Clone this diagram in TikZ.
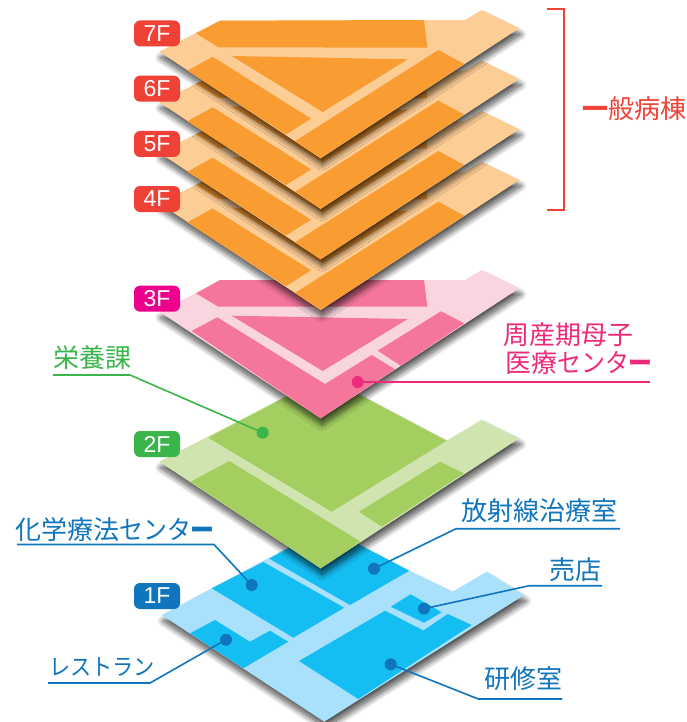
\documentclass[tikz,border=0pt]{standalone}
\usepackage{fontspec}
\setmainfont{Noto Sans CJK JP}
\newfontfamily\tagfont{Liberation Sans}
\newfontfamily\kanafont[FakeStretch=0.92]{Noto Sans CJK JP}
\usetikzlibrary{shadows.blur}
\definecolor{wardorange}{HTML}{F99D33}
\definecolor{wardorangelt}{HTML}{FDCD96}
\definecolor{wardred}{HTML}{EF4136}
\definecolor{matpink}{HTML}{F4769B}
\definecolor{matpinklt}{HTML}{F9D5DF}
\definecolor{matlabel}{HTML}{EE2A7B}
\definecolor{tagpink}{HTML}{EC008C}
\definecolor{foodgreen}{HTML}{A4CF60}
\definecolor{foodgreenlt}{HTML}{CFE4AF}
\definecolor{labelgreen}{HTML}{39B54A}
\definecolor{groundblue}{HTML}{15BEF2}
\definecolor{groundbluelt}{HTML}{A9E0FB}
\definecolor{labelblue}{HTML}{0F75BC}
\tikzset{
  floorbase/.style={blur shadow={shadow xshift=1.5pt, shadow yshift=-6pt, shadow blur radius=6pt, shadow blur steps=14, shadow opacity=72}},
  floortag/.style={rounded corners=6pt, minimum width=46pt, minimum height=26pt, inner sep=0pt, text=white, font=\tagfont\fontsize{23}{25}\selectfont},
  roomdot/.style={circle, minimum size=12pt, inner sep=0pt},
  roomlabel/.style={anchor=west, inner sep=0pt, font=\fontsize{26}{30}\selectfont},
  leader/.style={line width=1.6pt}
}
\newcommand{\kana}[1]{{\kanafont #1}}
% orange floors share one plan, #1 = vertical offset
\newcommand{\wardfloor}[1]{
  \begin{scope}[shift={(0,#1)}]
    \fill[wardorangelt, floorbase] (159.3,51.7) -- (220,20.7) -- (465,20) -- (481.7,10) -- (519.3,28.3) -- (320.7,158.3) -- cycle;
    \fill[wardorange] (196,33.3) -- (220,20.7) -- (424,20) -- (427.3,47.7) -- (218.3,47.3) -- cycle;
    \fill[wardorange] (231.7,56) -- (407.7,59.3) -- (322.7,112) -- cycle;
    \fill[wardorange] (187.3,70.7) -- (212.7,56.7) -- (311,118.7) -- (286,134.5) -- cycle;
    \fill[wardorange] (438.3,50) -- (464.3,64) -- (320.7,158.3) -- (295,141.2) -- cycle;
  \end{scope}
}

\begin{document}
\begin{tikzpicture}[x=1pt, y=-1pt]
    \useasboundingbox (0,0) rectangle (687,722);

    % 1F
    \fill[groundbluelt, floorbase] (161.7,615) -- (326,527.3) -- (409.3,570.7) -- (452.7,591.7) -- (486.7,571.7) -- (524.3,595) -- (324.3,721.7) -- cycle;
    \fill[groundblue] (211.7,588.3) -- (263.3,562) -- (344.3,607.7) -- (293.3,637.7) -- cycle;
    \fill[groundblue] (269.3,558.7) -- (326,527.3) -- (409.3,570.7) -- (350,605) -- cycle;
    \fill[groundblue] (190,633.3) -- (215,620) -- (250,641.7) -- (270,630.7) -- (288.3,641.7) -- (243.3,668.3) -- cycle;
    \fill[groundblue] (299,661) -- (385,610.7) -- (423.5,630.5) -- (447.7,614) -- (471.7,625) -- (358.3,699) -- cycle;
    \fill[groundblue] (390.7,606.7) -- (410.7,594.3) -- (441.7,612.3) -- (424,622.7) -- cycle;

    % 2F
    \fill[foodgreenlt, floorbase] (159.3,461.7) -- (324.7,376.3) -- (446.7,440.7) -- (481.7,419.7) -- (519.3,438.3) -- (320.7,568.3) -- cycle;
    \fill[foodgreen] (208.3,437.7) -- (324.7,376.3) -- (446.7,440.7) -- (331.7,511.7) -- cycle;
    \fill[foodgreen] (190.7,481.7) -- (229.3,461) -- (360.7,541.7) -- (320.7,568.3) -- cycle;
    \fill[foodgreen] (359,511.7) -- (440,461.7) -- (464,473.3) -- (381.7,526.7) -- cycle;

    % 3F
    \begin{scope}[shift={(0,260)}]
        \fill[matpinklt, floorbase] (159.3,51.7) -- (220,20.7) -- (465,20) -- (481.7,10) -- (519.3,28.3) -- (320.7,158.3) -- cycle;
        \fill[matpink] (196,33.3) -- (220,20) -- (424,20) -- (427.3,46.7) -- (218.3,46.7) -- cycle;
        \fill[matpink] (231.7,55.7) -- (407.7,59) -- (322.7,111) -- cycle;
        \fill[matpink] (191.7,71) -- (217.3,57.3) -- (325,124) -- (371.7,95) -- (395,109.3) -- (320.7,158.3) -- cycle;
        \fill[matpink] (377.7,90.7) -- (441,51.3) -- (464.3,63.3) -- (400.7,105.7) -- cycle;
    \end{scope}

    % 4F to 7F, lowest first
    \wardfloor{151.7}
    \wardfloor{101}
    \wardfloor{50.6}
    \wardfloor{0}

    % floor tags
    \node[floortag, fill=wardred] (tagseven) at (157,33.5) {7F};
    \node[floortag, fill=wardred] (tagsix) at (157,88.7) {6F};
    \node[floortag, fill=wardred] (tagfive) at (157,144) {5F};
    \node[floortag, fill=wardred] (tagfour) at (157,199) {4F};
    \node[floortag, fill=tagpink] (tagthree) at (157,298.7) {3F};
    \node[floortag, fill=labelgreen] (tagtwo) at (157,444) {2F};
    \node[floortag, fill=labelblue] (tagone) at (157,596) {1F};

    % ward bracket
    \coordinate (bracketa) at (547.3,9.3);
    \coordinate (bracketb) at (563.7,9.3);
    \coordinate (bracketc) at (563.7,210);
    \coordinate (bracketd) at (547.3,210);
    \draw[wardred, line width=1.8pt] (bracketa) -- (bracketb) -- (bracketc) -- (bracketd);
    \node[roomlabel, text=wardred] (wardlabel) at (582,109) {{\bfseries 一}般病棟};

    % room dots
    \node[roomdot, fill=matlabel] (dotmat) at (357.7,382) {};
    \node[roomdot, fill=labelgreen] (dotfood) at (262.7,432.7) {};
    \node[roomdot, fill=labelblue] (dotchemo) at (251.7,585) {};
    \node[roomdot, fill=labelblue] (dotrad) at (374,568.7) {};
    \node[roomdot, fill=labelblue] (dotshop) at (424,608.7) {};
    \node[roomdot, fill=labelblue] (dotrest) at (226,639.7) {};
    \node[roomdot, fill=labelblue] (dottrain) at (390.7,664.3) {};

    % room labels
    \node[roomlabel, text=matlabel] (labelmata) at (503,335) {周産期母子};
    \node[roomlabel, text=matlabel] (labelmatb) at (505,363) {医療\kana{センタ\bfseries ー}};
    \node[roomlabel, text=labelgreen] (labelfood) at (53,358) {栄養課};
    \node[roomlabel, text=labelblue] (labelchemo) at (15,530) {化学療法\kana{センタ\bfseries ー}};
    \node[roomlabel, text=labelblue] (labelrad) at (461.5,511) {放射線治療室};
    \node[roomlabel, text=labelblue] (labelshop) at (549,570) {売店};
    \node[roomlabel, text=labelblue] (labeltrain) at (484,679) {研修室};
    \node[roomlabel, text=labelblue, font=\fontsize{23}{28}\selectfont] (labelrest) at (49,667) {\kana{レストラン}};

    % leaders, each with its elbow and free end
    \coordinate (endmat) at (649.5,382.7);
    \coordinate (elbowfood) at (130,375);
    \coordinate (endfood) at (53,375);
    \coordinate (elbowchemo) at (214,544.5);
    \coordinate (endchemo) at (17,544.5);
    \coordinate (elbowrad) at (456,528.7);
    \coordinate (endrad) at (620,528.7);
    \coordinate (elbowshop) at (529.3,585.7);
    \coordinate (endshop) at (602,585.7);
    \coordinate (elbowrest) at (150,683);
    \coordinate (endrest) at (48,683);
    \coordinate (elbowtrain) at (478.3,699);
    \coordinate (endtrain) at (562,699);
    \draw[leader, matlabel] (dotmat.center) -- (dotmat.center -| endmat);
    \draw[leader, labelgreen] (dotfood.center) -- (elbowfood) -- (endfood);
    \draw[leader, labelblue] (dotchemo.center) -- (elbowchemo) -- (endchemo);
    \draw[leader, labelblue] (dotrad.center) -- (elbowrad) -- (endrad);
    \draw[leader, labelblue] (dotshop.center) -- (elbowshop) -- (endshop);
    \draw[leader, labelblue] (dotrest.center) -- (elbowrest) -- (endrest);
    \draw[leader, labelblue] (dottrain.center) -- (elbowtrain) -- (endtrain);
\end{tikzpicture}
\end{document}
